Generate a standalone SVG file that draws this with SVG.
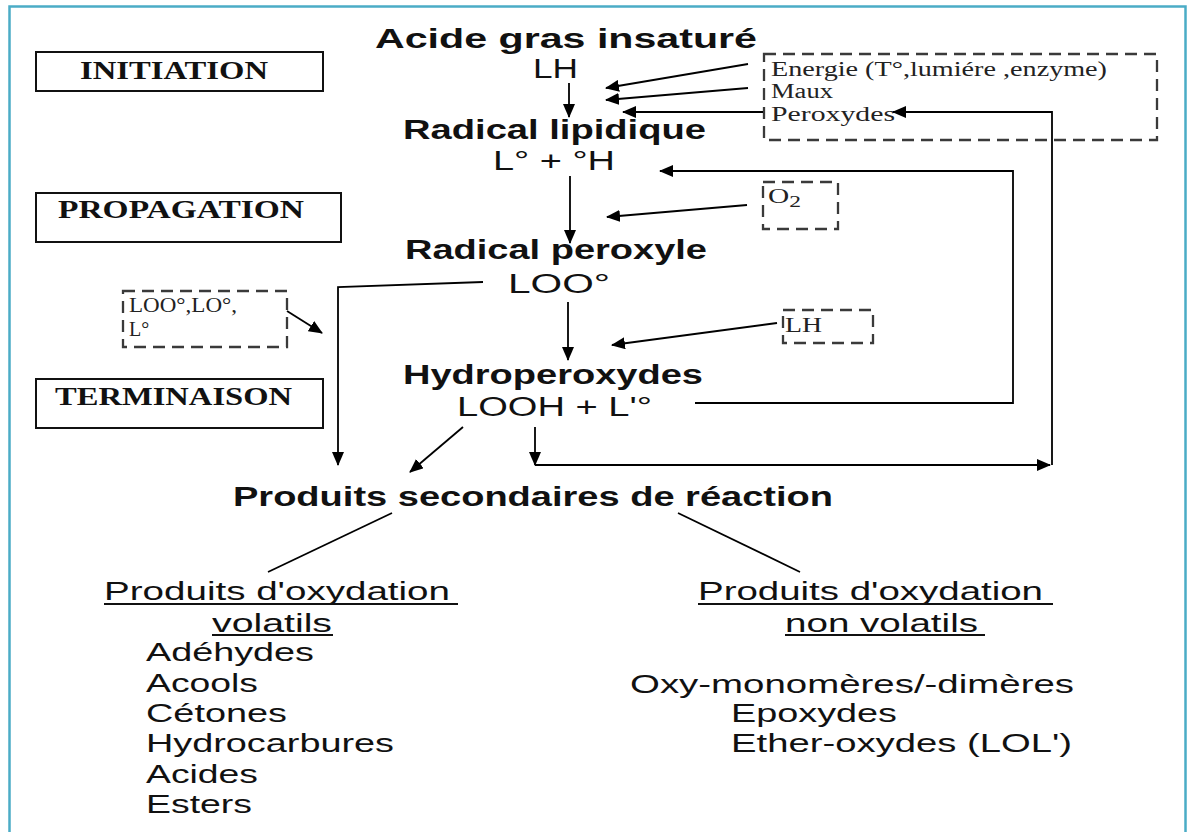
<svg xmlns="http://www.w3.org/2000/svg" width="1194" height="832" viewBox="0 0 1194 832">
<defs>
<marker id="ah" markerWidth="14" markerHeight="12" refX="13" refY="6" orient="auto" markerUnits="userSpaceOnUse"><path d="M0,0 L14,6 L0,12 z" fill="#000"/></marker>
<style>
.frame{fill:#fff;stroke:#4bacc6;stroke-width:2.5}
.phase{fill:#fff;stroke:#111;stroke-width:2}
.dash{fill:none;stroke:#3a3a3a;stroke-width:2.3;stroke-dasharray:12 7}
.ph{font-family:"Liberation Serif",serif;font-weight:bold;font-size:26px;fill:#111}
.t{font-family:"Liberation Sans",Arial,sans-serif;font-size:27px;fill:#111}
.b{font-family:"Liberation Sans",Arial,sans-serif;font-weight:bold;font-size:27px;fill:#111}
.r{font-family:"Liberation Sans",Arial,sans-serif;font-size:25px;fill:#111}
.s{font-family:"Liberation Serif",serif;font-size:20px;fill:#222}
.c line,.c polyline{stroke:#000;stroke-width:1.8;fill:none}
.ul{stroke:#111;stroke-width:2}
</style>
</defs>
<rect width="1194" height="832" fill="#fff"/>
<rect class="frame" x="9.5" y="6.5" width="1176" height="840"/>

<g id="initiation"><rect class="phase" x="36" y="52" width="287" height="39"/><text class="ph" x="80" y="79" textLength="188" lengthAdjust="spacingAndGlyphs">INITIATION</text></g>
<g id="propagation"><rect class="phase" x="36" y="193" width="305" height="49"/><text class="ph" x="58" y="218" textLength="246" lengthAdjust="spacingAndGlyphs">PROPAGATION</text></g>
<g id="terminaison"><rect class="phase" x="36" y="379" width="287" height="49"/><text class="ph" x="55" y="405" textLength="237" lengthAdjust="spacingAndGlyphs">TERMINAISON</text></g>

<g id="acide"><text class="b" x="375" y="48" textLength="382" lengthAdjust="spacingAndGlyphs">Acide gras insaturé</text><text class="t" x="533" y="78" textLength="45" lengthAdjust="spacingAndGlyphs">LH</text></g>
<g id="radical-lipidique"><text class="b" x="403" y="139" textLength="303" lengthAdjust="spacingAndGlyphs">Radical lipidique</text><text class="t" x="493" y="170" textLength="122" lengthAdjust="spacingAndGlyphs">L° + °H</text></g>
<g id="radical-peroxyle"><text class="b" x="405" y="259" textLength="302" lengthAdjust="spacingAndGlyphs">Radical peroxyle</text><text class="t" x="508" y="293" textLength="102" lengthAdjust="spacingAndGlyphs">LOO°</text></g>
<g id="hydroperoxydes"><text class="b" x="403" y="384" textLength="300" lengthAdjust="spacingAndGlyphs">Hydroperoxydes</text><text class="t" x="457" y="416" textLength="195" lengthAdjust="spacingAndGlyphs">LOOH + L'°</text></g>
<g id="produits"><text class="b" x="233" y="506" textLength="600" lengthAdjust="spacingAndGlyphs">Produits secondaires de réaction</text></g>

<g id="energie"><rect class="dash" x="764" y="54" width="393" height="86"/>
<text class="s" x="771" y="76" textLength="336" lengthAdjust="spacingAndGlyphs">Energie (T°,lumiére ,enzyme)</text>
<text class="s" x="771" y="98" textLength="62" lengthAdjust="spacingAndGlyphs">Maux</text>
<text class="s" x="771" y="121" textLength="124" lengthAdjust="spacingAndGlyphs">Peroxydes</text></g>
<g id="o2"><rect class="dash" x="763" y="182" width="75" height="47"/><text class="s" x="768" y="203" font-size="21" textLength="33" lengthAdjust="spacingAndGlyphs">O<tspan font-size="16" dy="4">2</tspan></text></g>
<g id="lh-box"><rect class="dash" x="783" y="310" width="90" height="33"/><text class="s" x="785" y="332" textLength="37" lengthAdjust="spacingAndGlyphs">LH</text></g>
<g id="radicaux"><rect class="dash" x="123" y="291" width="164" height="56"/><text class="s" x="129" y="312" textLength="108" lengthAdjust="spacingAndGlyphs">LOO°,LO°,</text><text class="s" x="129" y="336">L°</text></g>

<g id="volatils">
<text class="r" x="104" y="600" textLength="346" lengthAdjust="spacingAndGlyphs">Produits d'oxydation</text>
<line class="ul" x1="104" y1="604" x2="458" y2="604"/>
<text class="r" x="212" y="632" textLength="120" lengthAdjust="spacingAndGlyphs">volatils</text>
<line class="ul" x1="212" y1="635" x2="333" y2="635"/>
<text class="r" x="146" y="661" textLength="168" lengthAdjust="spacingAndGlyphs">Adéhydes</text>
<text class="r" x="146" y="692" textLength="112" lengthAdjust="spacingAndGlyphs">Acools</text>
<text class="r" x="146" y="722" textLength="141" lengthAdjust="spacingAndGlyphs">Cétones</text>
<text class="r" x="146" y="752" textLength="248" lengthAdjust="spacingAndGlyphs">Hydrocarbures</text>
<text class="r" x="146" y="783" textLength="112" lengthAdjust="spacingAndGlyphs">Acides</text>
<text class="r" x="146" y="813" textLength="106" lengthAdjust="spacingAndGlyphs">Esters</text>
</g>
<g id="non-volatils">
<text class="r" x="698" y="600" textLength="345" lengthAdjust="spacingAndGlyphs">Produits d'oxydation</text>
<line class="ul" x1="698" y1="604" x2="1053" y2="604"/>
<text class="r" x="785" y="632" textLength="193" lengthAdjust="spacingAndGlyphs">non volatils</text>
<line class="ul" x1="785" y1="635" x2="985" y2="635"/>
<text class="r" x="630" y="693" textLength="444" lengthAdjust="spacingAndGlyphs">Oxy-monomères/-dimères</text>
<text class="r" x="731" y="722" textLength="166" lengthAdjust="spacingAndGlyphs">Epoxydes</text>
<text class="r" x="731" y="752" textLength="341" lengthAdjust="spacingAndGlyphs">Ether-oxydes (LOL')</text>
</g>

<g id="connectors" class="c">
<line x1="569" y1="83" x2="569" y2="117" marker-end="url(#ah)"/>
<line x1="570" y1="176" x2="570" y2="243" marker-end="url(#ah)"/>
<line x1="568" y1="302" x2="568" y2="360" marker-end="url(#ah)"/>
<line x1="748" y1="64" x2="606" y2="88" marker-end="url(#ah)"/>
<line x1="748" y1="88" x2="606" y2="100" marker-end="url(#ah)"/>
<line x1="763" y1="112" x2="623" y2="112" marker-end="url(#ah)"/>
<line x1="747" y1="205" x2="607" y2="217" marker-end="url(#ah)"/>
<line x1="777" y1="323" x2="612" y2="345" marker-end="url(#ah)"/>
<line x1="287" y1="311" x2="322" y2="333" marker-end="url(#ah)"/>
<polyline points="695,403 1013,403 1013,171 660,171" marker-end="url(#ah)"/>
<polyline points="483,282 338,287 338,465" marker-end="url(#ah)"/>
<line x1="463" y1="427" x2="410" y2="472" marker-end="url(#ah)"/>
<line x1="535" y1="427" x2="535" y2="465" marker-end="url(#ah)"/>
<line x1="535" y1="465" x2="1050" y2="465" marker-end="url(#ah)"/>
<polyline points="1052,465 1052,112 893,112" marker-end="url(#ah)"/>
<line x1="392" y1="513" x2="268" y2="572"/>
<line x1="678" y1="513" x2="800" y2="572"/>
</g>
</svg>
